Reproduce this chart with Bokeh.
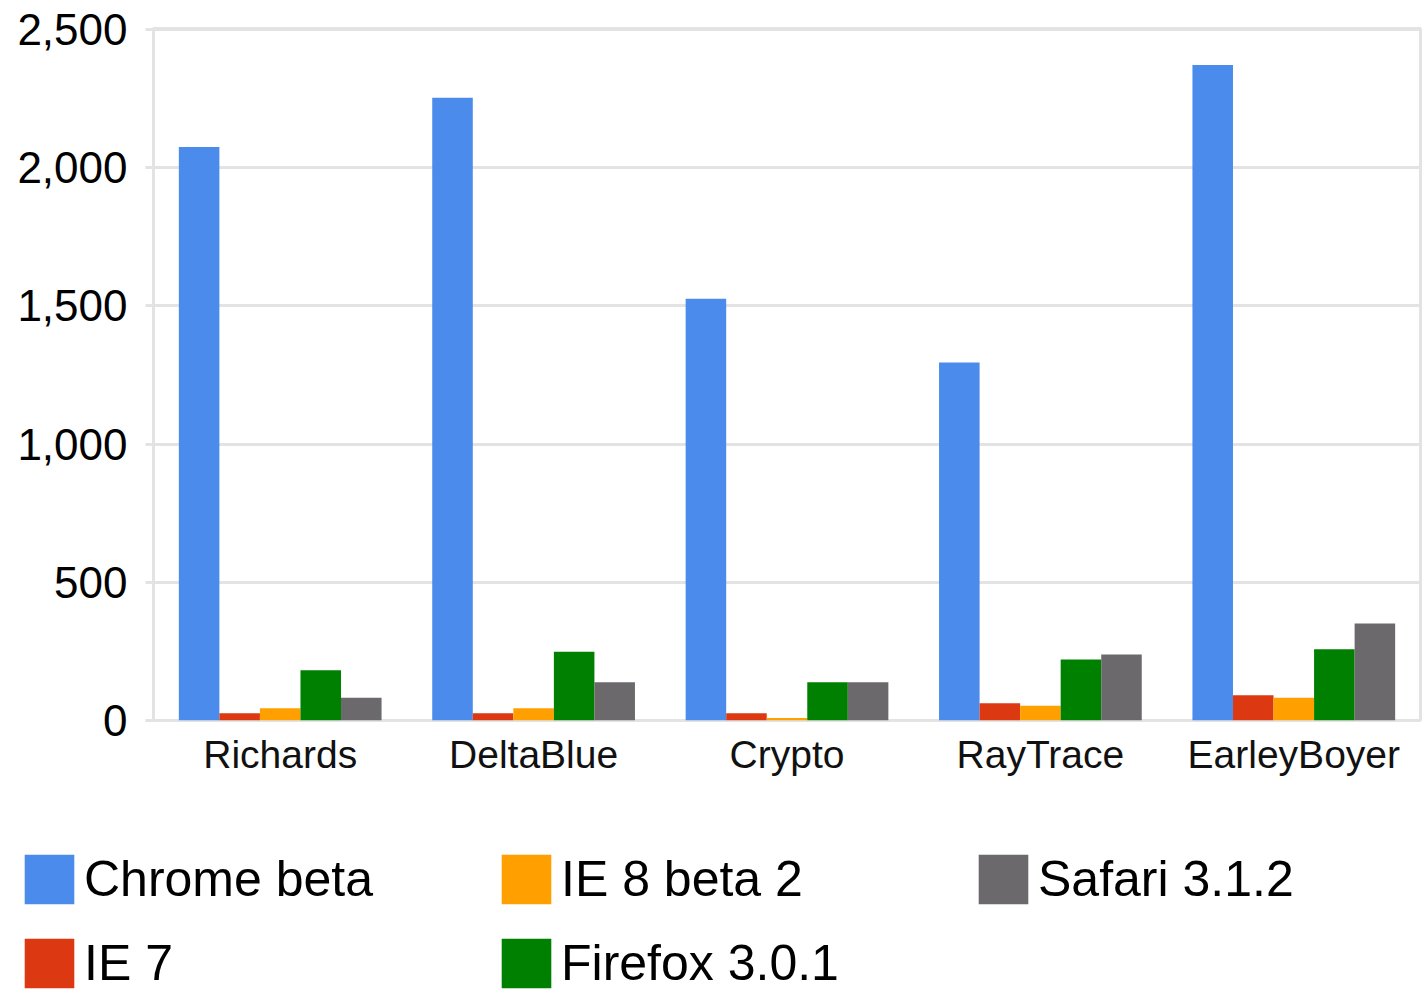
from bokeh.plotting import figure
from bokeh.models import ColumnDataSource, FactorRange, Range1d, Legend, LegendItem, NumeralTickFormatter, FixedTicker
from bokeh.transform import dodge
from bokeh.layouts import column
from bokeh.embed import file_html
from bokeh.resources import INLINE

benchmarks = ["Richards", "DeltaBlue", "Crypto", "RayTrace", "EarleyBoyer"]
chrome_beta = [2075, 2253, 1526, 1295, 2372]
ie7 = [26, 26, 26, 62, 91]
ie8_beta2 = [44, 44, 9, 53, 82]
firefox_301 = [182, 249, 138, 221, 258]
safari_312 = [82, 138, 138, 239, 351]

series_names = ["Chrome beta", "IE 7", "IE 8 beta 2", "Firefox 3.0.1", "Safari 3.1.2"]
series_keys = ["chrome", "ie7", "ie8", "firefox", "safari"]
colors = ["#4a8bec", "#dc3912", "#ffa000", "#008000", "#6b696c"]
y_ticks = [0, 500, 1000, 1500, 2000, 2500]

source = ColumnDataSource(dict(cat=benchmarks, chrome=chrome_beta, ie7=ie7, ie8=ie8_beta2,
                               firefox=firefox_301, safari=safari_312))

FONT = "Liberation Sans"
GRID = "#e3e3e3"

p = figure(x_range=FactorRange(*benchmarks, range_padding=0), y_range=Range1d(0, 2504),
           width=1424, height=800, output_backend="svg", toolbar_location=None,
           min_border_left=153, min_border_right=4, min_border_top=28, min_border_bottom=80)
p.frame_align = False

bar_w = 0.16
offsets = [-2 * bar_w, -bar_w, 0, bar_w, 2 * bar_w]
for key, off, col in zip(series_keys, offsets, colors):
    p.vbar(x=dodge("cat", off, range=p.x_range), top=key, width=bar_w, source=source,
           fill_color=col, line_color=None)

p.outline_line_color = GRID
p.outline_line_width = 3
p.xgrid.grid_line_color = None
p.ygrid.grid_line_color = GRID
p.ygrid.grid_line_width = 3

p.yaxis.ticker = FixedTicker(ticks=y_ticks)
p.yaxis.formatter = NumeralTickFormatter(format="0,0")
p.yaxis.axis_line_color = None
p.yaxis.major_tick_out = 8
p.yaxis.major_tick_in = 0
p.yaxis.major_tick_line_color = GRID
p.yaxis.major_tick_line_width = 3
p.yaxis.minor_tick_line_color = None
p.yaxis.major_label_standoff = 18
p.yaxis.major_label_text_font = FONT
p.yaxis.major_label_text_font_size = "44px"
p.yaxis.major_label_text_color = "#000000"

p.xaxis.axis_line_color = None
p.xaxis.major_tick_line_color = None
p.xaxis.major_tick_out = 0
p.xaxis.major_tick_in = 0
p.xaxis.major_label_standoff = 12
p.xaxis.major_label_text_font = FONT
p.xaxis.major_label_text_font_size = "39px"
p.xaxis.major_label_text_color = "#111111"

# legend figure
lg = figure(width=1424, height=193, x_range=Range1d(0, 1), y_range=Range1d(0, 1),
            output_backend="svg", toolbar_location=None,
            min_border_left=0, min_border_right=0, min_border_top=0, min_border_bottom=0)
lg.frame_align = False
lg.axis.visible = False
lg.grid.grid_line_color = None
lg.outline_line_color = None

legend_src = ColumnDataSource(dict(x=[-10.0], top=[-10.0]))
lrs = []
for col in colors:
    r = lg.vbar(x="x", top="top", width=0.1, source=legend_src, fill_color=col, line_color=None)
    lrs.append(r)

items = [LegendItem(label=n, renderers=[r]) for n, r in zip(series_names, lrs)]
legend = Legend(items=items, location=(18, -1), nrows=2, orientation="vertical",
                glyph_width=62, glyph_height=62, label_standoff=4, label_width=389,
                label_height=50, spacing=22, padding=0, margin=0, border_line_color=None,
                background_fill_alpha=0, label_text_font=FONT, label_text_font_size="50px",
                label_text_color="#000000")
lg.add_layout(legend, "center")

layout = column(p, lg, spacing=0)
open("out.html", "w").write(file_html(layout, INLINE))
